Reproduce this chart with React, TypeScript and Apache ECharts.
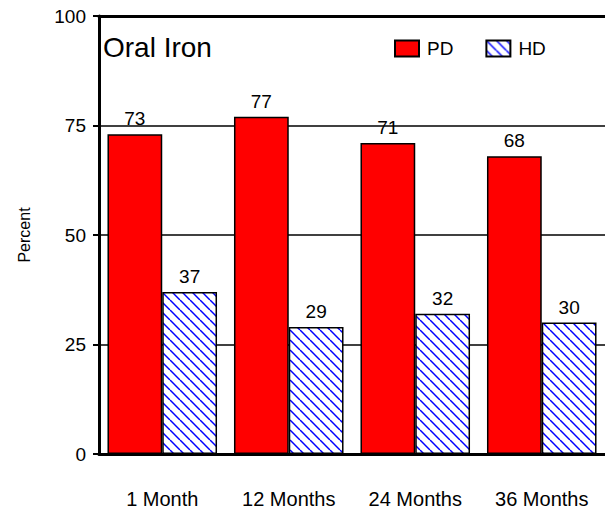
import React, { useEffect, useRef } from "react";
import * as echarts from "echarts";

const categories = ["1 Month", "12 Months", "24 Months", "36 Months"];
const pdValues = [73, 77, 71, 68];
const hdValues = [37, 29, 32, 30];
const yTicks = [0, 25, 50, 75, 100];
const seriesNames = ["PD", "HD"];
const chartTitle = "Oral Iron";
const yName = "Percent";

function makeHatch(): HTMLCanvasElement {
  const s = 10;
  const c = document.createElement("canvas");
  c.width = s;
  c.height = s;
  const ctx = c.getContext("2d")!;
  ctx.fillStyle = "#ffffff";
  ctx.fillRect(0, 0, s, s);
  ctx.strokeStyle = "#0000ff";
  ctx.lineWidth = 1.5;
  for (const off of [-s, 0, s]) {
    ctx.beginPath();
    ctx.moveTo(off, 0);
    ctx.lineTo(off + s, s);
    ctx.stroke();
  }
  return c;
}

export default function App() {
  const ref = useRef<HTMLDivElement>(null);
  useEffect(() => {
    if (!ref.current) return;
    const chart = echarts.init(ref.current, undefined, { renderer: "svg" });
    const font = "'Liberation Sans', Arial, sans-serif";
    const hatch = makeHatch();
    chart.setOption({
      animation: false,
      backgroundColor: "#ffffff",
      textStyle: { fontFamily: font },
      grid: { left: 99, width: 509, top: 16, bottom: 56, containLabel: false },
      graphic: [
        {
          type: "text",
          left: 103,
          top: 33,
          style: { text: chartTitle, font: "28px " + font, fill: "#000" },
        },
      ],
      legend: {
        left: 389,
        top: 34,
        itemGap: 32,
        itemWidth: 24,
        itemHeight: 16,
        icon: "rect",
        data: seriesNames,
        textStyle: { fontSize: 19, color: "#000", fontFamily: font, padding: [0, 0, 0, 3] },
      },
      xAxis: [
        {
          type: "category",
          data: categories,
          axisLine: { lineStyle: { color: "#000", width: 3 } },
          axisTick: { show: false },
          axisLabel: { color: "#000", fontSize: 20, margin: 35, fontFamily: font },
        },
        {
          type: "category",
          position: "top",
          data: categories,
          axisLine: { show: true, lineStyle: { color: "#000", width: 3 } },
          axisTick: { show: false },
          axisLabel: { show: false },
        },
      ],
      yAxis: {
        type: "value",
        min: yTicks[0],
        max: yTicks[yTicks.length - 1],
        interval: 25,
        name: yName,
        nameLocation: "middle",
        nameGap: 67,
        nameTextStyle: { color: "#000", fontSize: 16, fontFamily: font },
        axisLine: { show: true, lineStyle: { color: "#000", width: 3 } },
        axisTick: { show: true, inside: false, length: 6, lineStyle: { color: "#000", width: 2 } },
        axisLabel: { color: "#000", fontSize: 19, margin: 13, fontFamily: font },
        splitLine: { show: true, lineStyle: { color: "#000", width: 1.5 } },
      },
      series: [
        {
          name: seriesNames[0],
          type: "bar",
          data: pdValues,
          barGap: "0%",
          barCategoryGap: "13.4%",
          itemStyle: { color: "#ff0000", borderColor: "#000", borderWidth: 1.5 },
          label: { show: true, position: "top", distance: 6, color: "#000", fontSize: 19, fontFamily: font },
        },
        {
          name: seriesNames[1],
          type: "bar",
          data: hdValues,
          itemStyle: {
            color: { image: hatch, repeat: "repeat" },
            borderColor: "#000",
            borderWidth: 1.5,
          },
          label: { show: true, position: "top", distance: 6, color: "#000", fontSize: 19, fontFamily: font },
        },
      ],
    });
    return () => chart.dispose();
  }, []);
  return (
    <div
      ref={ref}
      style={{ position: "fixed", left: 0, top: 0, width: 605, height: 510 }}
    />
  );
}
